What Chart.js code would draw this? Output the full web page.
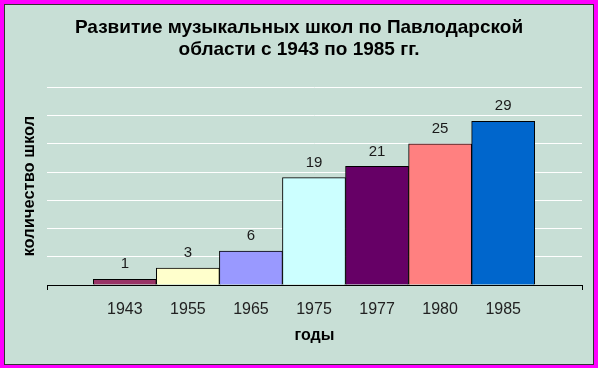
<!DOCTYPE html>
<html>
<head>
<meta charset="utf-8">
<script src="https://cdn.jsdelivr.net/npm/chart.js@4"></script>
<style>
  html, body { margin: 0; padding: 0; background: #fff; }
  #wrap { width: 598px; height: 368px; position: relative; }
</style>
</head>
<body>
<div id="wrap"><canvas id="chart" width="598" height="368"></canvas></div>
<script>
const years = ["1943", "1955", "1965", "1975", "1977", "1980", "1985"];
const schools = [1, 3, 6, 19, 21, 25, 29];
const barColors = ["#993366", "#ffffcc", "#9999ff", "#ccffff", "#660066", "#ff8080", "#0066cc"];
const titleLines = ["Развитие музыкальных школ по Павлодарской", "области с 1943 по 1985 гг."];

// empty space left and right of the bars, in bar widths
const X_MIN = -1.234, X_MAX = 7.25;

// magenta frame with a thin dark inner line
const framePlugin = {
  id: "frame",
  beforeDraw(chart) {
    const c = chart.ctx;
    c.save();
    c.fillStyle = "#ff00ff";
    c.fillRect(0, 0, 598, 368);
    c.fillStyle = "#c8dfd6";
    c.fillRect(5, 5, 588, 359);
    c.strokeStyle = "#333333";
    c.lineWidth = 1;
    c.strokeRect(4.5, 4.5, 589, 360);
    c.restore();
  }
};

// value labels above bars
const valueLabels = {
  id: "valueLabels",
  afterDatasetsDraw(chart) {
    const c = chart.ctx;
    const meta = chart.getDatasetMeta(0);
    c.save();
    c.font = "15px 'Liberation Sans', Arial, sans-serif";
    c.fillStyle = "#1a1a1a";
    c.textAlign = "center";
    c.textBaseline = "middle";
    meta.data.forEach((bar, i) => {
      c.fillText(String(schools[i]), bar.x, bar.y - 15);
    });
    c.restore();
  }
};

new Chart(document.getElementById("chart"), {
  type: "bar",
  data: {
    datasets: [{
      data: schools.map((v, i) => ({ x: i, y: v })),
      backgroundColor: barColors,
      borderColor: "#000",
      borderWidth: 1,
      barPercentage: 1,
      categoryPercentage: 1
    }]
  },
  options: {
    responsive: false,
    animation: false,
    layout: { padding: 0 },
    plugins: {
      legend: { display: false },
      tooltip: { enabled: false },
      title: {
        display: true,
        text: titleLines,
        color: "#000",
        font: { family: "'Liberation Sans', Arial, sans-serif", size: 19, weight: "bold", lineHeight: 1.14 },
        padding: { top: 17, bottom: 27 }
      }
    },
    scales: {
      x: {
        type: "linear",
        min: X_MIN,
        max: X_MAX,
        offset: false,
        afterBuildTicks(scale) {
          scale.ticks = [X_MIN, 0, 1, 2, 3, 4, 5, 6, X_MAX].map(v => ({ value: v }));
        },
        afterFit(scale) {
          scale.height = 83;
          scale.paddingLeft = 0;
          scale.paddingRight = 16;
        },
        ticks: {
          autoSkip: false,
          maxRotation: 0,
          padding: 10,
          color: "#222",
          font: { family: "'Liberation Sans', Arial, sans-serif", size: 16 },
          callback: (v, i) => (i === 0 || i === 8) ? "" : years[i - 1]
        },
        grid: {
          offset: false,
          drawOnChartArea: false,
          drawTicks: true,
          tickLength: 5,
          color: ctx => (ctx.index === 0 || ctx.index === 8) ? "#000" : "rgba(0,0,0,0)"
        },
        border: { display: true, color: "#000", width: 1 },
        title: {
          display: true,
          text: "годы",
          color: "#000",
          font: { family: "'Liberation Sans', Arial, sans-serif", size: 16, weight: "bold" },
          padding: { top: 0, bottom: 23 }
        }
      },
      y: {
        min: 0,
        max: 35,
        afterFit(scale) { scale.width = 47; },
        ticks: { stepSize: 5, display: false },
        grid: {
          color: ctx => ctx.tick && ctx.tick.value === 0 ? "rgba(0,0,0,0)" : "#ffffff",
          lineWidth: 1,
          drawTicks: false
        },
        border: { display: false },
        title: {
          display: true,
          text: "количество школ",
          color: "#000",
          font: { family: "'Liberation Sans', Arial, sans-serif", size: 16.5, weight: "bold" },
          padding: { top: 20, bottom: 0 }
        }
      }
    }
  },
  plugins: [framePlugin, valueLabels]
});
</script>
</body>
</html>
